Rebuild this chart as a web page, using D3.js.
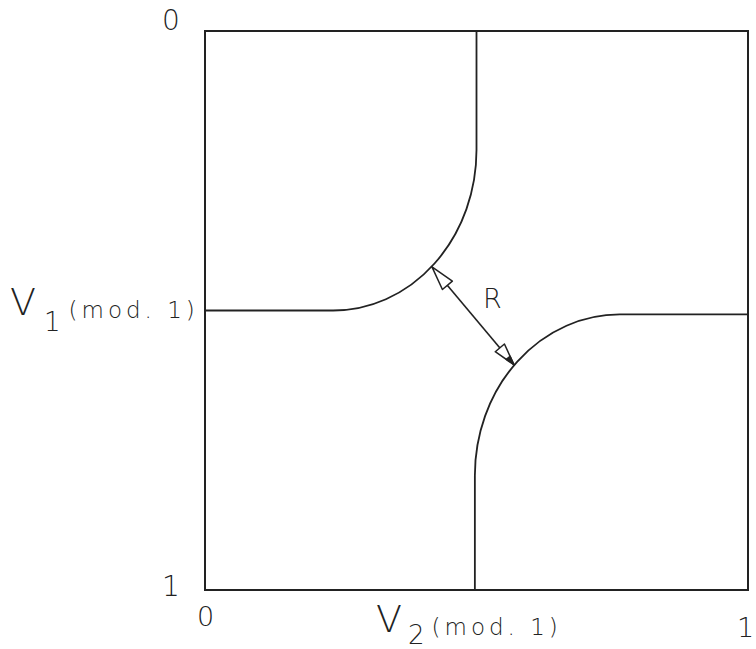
<!DOCTYPE html>
<html>
<head>
<meta charset="utf-8">
<script src="https://cdn.jsdelivr.net/npm/d3@7"></script>
<style>
  html, body { margin: 0; padding: 0; background: #fff; }
  svg { display: block; }
  text { font-family: "DejaVu Sans", "Liberation Sans", sans-serif; font-weight: 200; fill: #222; }
</style>
</head>
<body>
<svg id="chart" width="756" height="649"></svg>
<script>
// Phase plane, both coordinates taken mod 1
const xTicks = [0, 1];
const yTicks = [0, 1];
const xTickLabels = ["0", "1"];
const yTickLabels = ["0", "1"];

// Upper-left boundary: horizontal run, rounded corner, vertical run
const upperLeftLevel = [0.5, 0.5];        // [vertical x, horizontal y]
const upperLeftRadius = [0.264, 0.287];   // [rx, ry] of the rounded corner

// Lower-right boundary
const lowerRightLevel = [0.497, 0.507];
const lowerRightRadius = [0.267, 0.288];

// Separation R between the two boundaries
const arrowEnds = [[0.418, 0.422], [0.569, 0.597]];

const svg = d3.select("#chart");
const x = d3.scaleLinear().domain([0, 1]).range([205, 748]);
const y = d3.scaleLinear().domain([0, 1]).range([31, 590]);

const ink = "#222";

// Frame
svg.append("rect")
  .attr("x", x(0)).attr("y", y(0))
  .attr("width", x(1) - x(0)).attr("height", y(1) - y(0))
  .attr("fill", "none").attr("stroke", ink).attr("stroke-width", 2);

// Tick labels
const xAxis = d3.axisBottom(x).tickValues(xTicks)
  .tickFormat((d, i) => xTickLabels[i]).tickSize(0).tickPadding(12);
const gx = svg.append("g").attr("transform", `translate(0,${y(1)})`).call(xAxis);
gx.select(".domain").remove();
gx.selectAll("text").attr("font-size", 27).attr("font-family", null).attr("fill", ink)
  .attr("x", (d) => d === 1 ? -3 : 0)
  .attr("dy", (d) => d === 1 ? "1.3em" : "0.88em");

const yAxis = d3.axisLeft(y).tickValues(yTicks)
  .tickFormat((d, i) => yTickLabels[i]).tickSize(0).tickPadding(34);
const gy = svg.append("g").attr("transform", `translate(${x(0)},0)`).call(yAxis);
gy.select(".domain").remove();
gy.selectAll("text").attr("font-size", 28).attr("font-family", null).attr("fill", ink)
  .attr("text-anchor", "middle")
  .attr("dy", (d) => d === 0 ? "-0.05em" : "0.2em");

// Boundary curves
function boundaryUpperLeft(level, r) {
  const cx = level[0], hy = level[1];
  const rxp = x(r[0]) - x(0), ryp = y(r[1]) - y(0);
  return `M${x(0)},${y(hy)} L${x(cx - r[0])},${y(hy)}` +
    ` A${rxp},${ryp} 0 0 0 ${x(cx)},${y(hy - r[1])}` +
    ` L${x(cx)},${y(0)}`;
}
function boundaryLowerRight(level, r) {
  const cx = level[0], hy = level[1];
  const rxp = x(r[0]) - x(0), ryp = y(r[1]) - y(0);
  return `M${x(cx)},${y(1)} L${x(cx)},${y(hy + r[1])}` +
    ` A${rxp},${ryp} 0 0 1 ${x(cx + r[0])},${y(hy)}` +
    ` L${x(1)},${y(hy)}`;
}

svg.append("path").attr("d", boundaryUpperLeft(upperLeftLevel, upperLeftRadius))
  .attr("fill", "none").attr("stroke", ink).attr("stroke-width", 1.8);
svg.append("path").attr("d", boundaryLowerRight(lowerRightLevel, lowerRightRadius))
  .attr("fill", "none").attr("stroke", ink).attr("stroke-width", 1.8);

// Double-headed arrow
const a = arrowEnds.map(d => [x(d[0]), y(d[1])]);
svg.append("line")
  .attr("x1", a[0][0]).attr("y1", a[0][1]).attr("x2", a[1][0]).attr("y2", a[1][1])
  .attr("stroke", ink).attr("stroke-width", 1.6);

function head(tip, toward, len, half, fill) {
  const dx = toward[0] - tip[0], dy = toward[1] - tip[1];
  const L = Math.hypot(dx, dy), ux = dx / L, uy = dy / L;
  const bx = tip[0] + ux * len, by = tip[1] + uy * len;
  const pts = [tip, [bx - uy * half, by + ux * half], [bx + uy * half, by - ux * half]];
  svg.append("polygon").attr("points", pts.map(p => p.join(",")).join(" "))
    .attr("fill", fill).attr("stroke", ink).attr("stroke-width", 1.5)
    .attr("stroke-linejoin", "round");
}
head(a[0], a[1], 24, 6.5, "#fff");
head(a[1], a[0], 22, 6, "#fff");
head(a[1], a[0], 9, 2.5, ink);

svg.append("text").attr("x", 483).attr("y", 308).attr("font-size", 27).text("R");

// Axis titles
function axisTitle(xp, yp, sub, subDx, subDy, restDx, restDy) {
  const t = svg.append("text").attr("x", xp).attr("y", yp);
  t.append("tspan").attr("font-size", 38).text("V");
  t.append("tspan").attr("font-size", 26).attr("dx", subDx).attr("dy", subDy).text(sub);
  t.append("tspan").attr("font-size", 23).attr("letter-spacing", 4)
    .attr("dx", restDx).attr("dy", restDy).text("(mod. 1)");
}
axisTitle(10, 315, "1", 8, 16, 8, -13);
axisTitle(376, 632, "2", 6, 12, 7, -9);
</script>
</body>
</html>
